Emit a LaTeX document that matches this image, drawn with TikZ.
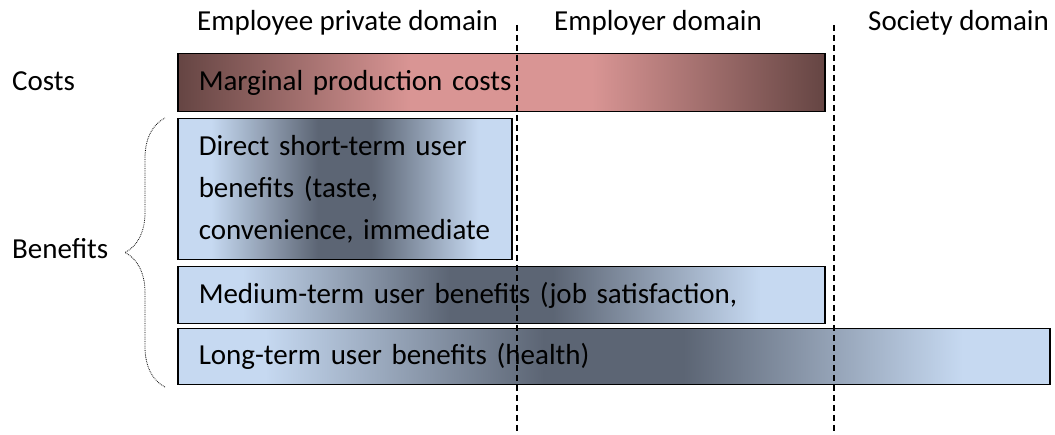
\documentclass[tikz,border=0pt]{standalone}
\usepackage{fontspec}
\setmainfont{Carlito}
\usetikzlibrary{decorations.pathreplacing}
\definecolor{costdark}{RGB}{101,69,67}
\definecolor{costpink}{RGB}{217,149,148}
\definecolor{userlight}{RGB}{198,217,241}
\definecolor{userdark}{RGB}{92,101,116}
\pgfdeclarehorizontalshading{costshade}{100bp}{color(0bp)=(costdark); color(25bp)=(costdark); color(43bp)=(costpink); color(57bp)=(costpink); color(75bp)=(costdark); color(100bp)=(costdark)}
\pgfdeclarehorizontalshading{usershade}{100bp}{color(0bp)=(userlight); color(25bp)=(userlight); color(30bp)=(userlight); color(46bp)=(userdark); color(54bp)=(userdark); color(70bp)=(userlight); color(100bp)=(userlight)}

\begin{document}
\begin{tikzpicture}[x=1pt, y=1pt, font=\fontsize{29}{42}\selectfont,
  bar/.style={draw, line width=1.5pt, anchor=north west, inner xsep=21pt, inner ysep=0pt, align=left},
  costbar/.style={bar, shade, shading=costshade},
  userbar/.style={bar, shade, shading=usershade},
  lab/.style={anchor=base west, inner sep=0pt},
  domline/.style={line width=1.5pt, dash pattern=on 6pt off 4pt}]
  \useasboundingbox (0,0) rectangle (1055,-435);

  \node[lab] (emp) at (197,-31) {Employee private domain};
  \node[lab] (emr) at (554,-31) {Employer domain};
  \node[lab] (soc) at (868,-31) {Society domain};

  \node[lab] (cost) at (12,-91) {Costs};
  \node[lab] (ben) at (12,-259) {Benefits};

  \node[costbar, minimum width=647pt, minimum height=58pt, text width=605pt] (mpc) at (177,-53) {Marginal production costs};
  \node[userbar, minimum width=334pt, minimum height=141pt, text width=292pt] (dst) at (177,-118) {Direct short-term user\\ benefits (taste,\\ convenience, immediate};
  \node[userbar, minimum width=647pt, minimum height=57pt, text width=605pt] (mtu) at (177,-266) {Medium-term user benefits (job satisfaction,};
  \node[userbar, minimum width=872pt, minimum height=56pt, text width=830pt] (ltu) at (177,-328) {Long-term user benefits (health)};

  \coordinate (d1t) at (517,-25);
  \coordinate (d1b) at (517,-435);
  \coordinate (d2t) at (834,-25);
  \coordinate (d2b) at (834,-435);
  \draw[domline] (d1t) -- (d1b);
  \draw[domline] (d2t) -- (d2b);

  \coordinate (bbot) at (165,-387);
  \coordinate (btop) at (165,-118);
  \draw[densely dotted, line width=0.8pt, decorate, decoration={brace, amplitude=40pt}] (bbot) -- (btop);
\end{tikzpicture}
\end{document}
